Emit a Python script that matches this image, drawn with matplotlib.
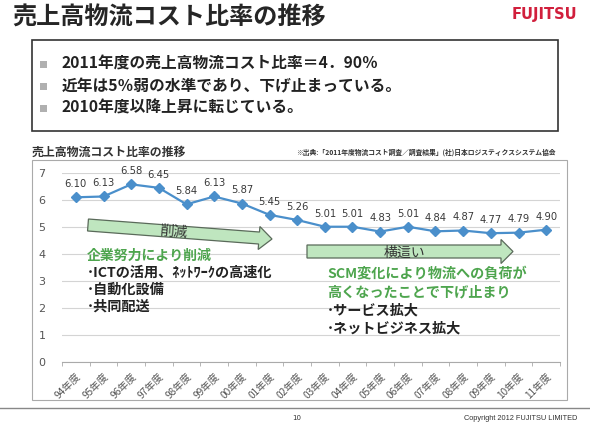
import matplotlib
matplotlib.use("Agg")
import matplotlib.pyplot as plt
from matplotlib import transforms
from matplotlib.patches import Polygon, Rectangle
from matplotlib.lines import Line2D
import math

plt.rcParams['font.family'] = ['Noto Sans CJK JP', 'DejaVu Sans']

# ---- data ----
categories = ["94年度", "95年度", "96年度", "97年度", "98年度", "99年度", "00年度", "01年度", "02年度",
              "03年度", "04年度", "05年度", "06年度", "07年度", "08年度", "09年度", "10年度", "11年度"]
values = [6.10, 6.13, 6.58, 6.45, 5.84, 6.13, 5.87, 5.45, 5.26,
          5.01, 5.01, 4.83, 5.01, 4.84, 4.87, 4.77, 4.79, 4.90]
y_ticks = [0, 1, 2, 3, 4, 5, 6, 7]

title = "売上高物流コスト比率の推移"
bullets = ["2011年度の売上高物流コスト比率＝4．90％",
           "近年は5％弱の水準であり、下げ止まっている。",
           "2010年度以降上昇に転じている。"]
chart_title = "売上高物流コスト比率の推移"
source = "※出典:「2011年度物流コスト調査／調査結果」(社)日本ロジスティクスシステム協会"
left_head = "企業努力により削減"
left_items = ["･ICTの活用、ﾈｯﾄﾜｰｸの高速化", "･自動化設備", "･共同配送"]
right_head = ["SCM変化により物流への負荷が", "高くなったことで下げ止まり"]
right_items = ["･サービス拡大", "･ネットビジネス拡大"]

W, H = 590, 424
fig = plt.figure(figsize=(W / 100, H / 100), dpi=100)
fig.patch.set_facecolor("white")

# pixel transform (origin top-left)
PX = transforms.Affine2D().scale(1 / W, -1 / H).translate(0, 1) + fig.transFigure

GREEN = "#4ea54e"
DARK = "#222222"

# title & logo
fig.text(12, 18, title, transform=PX, fontsize=17.4, fontweight="bold", color="#262626", va="center", ha="left")
fig.text(577, 15, "FUJITSU", transform=PX, fontsize=10.5, color="#d11f3c", va="center", ha="right",
         fontweight="bold", family=["Liberation Sans Narrow", "DejaVu Sans"])

# bullet box
fig.patches.append(Rectangle((32, 40), 526, 91, transform=PX, fill=False, edgecolor="#333333", lw=1.2))
for i, b in enumerate(bullets):
    y = 64 + i * 22
    fig.patches.append(Rectangle((40, y - 3.5), 7, 7, transform=PX, facecolor="#b0b0b0", edgecolor="none"))
    fig.text(62, y, b, transform=PX, fontsize=11.3, fontweight="bold", color=DARK, va="center", ha="left")

# chart frame
fig.patches.append(Rectangle((32, 160), 535, 240, transform=PX, fill=False, edgecolor="#aaaaaa", lw=0.8))
fig.text(32, 152, chart_title, transform=PX, fontsize=8.6, fontweight="bold", color="#333333", va="center")
fig.text(556, 152, source, transform=PX, fontsize=4.9, fontweight="bold", color="#333333", va="center", ha="right")

# axes
ax = fig.add_axes([62 / W, 1 - 362 / H, (560 - 62) / W, (362 - 173) / H])
x = list(range(len(categories)))
ax.plot(x, values, color="#4a8fcb", lw=1.6, marker="D", markersize=5.5, zorder=3)
for xi, v in zip(x, values):
    ax.annotate(f"{v:.2f}", (xi, v), xytext=(0, 9.5), textcoords="offset points",
                ha="center", va="center", fontsize=7.2, color="#3a3a3a", family=["DejaVu Sans"])
ax.set_xlim(-0.5, len(categories) - 0.5)
ax.set_ylim(0, 7)
ax.set_yticks(y_ticks)
ax.set_yticklabels([str(t) for t in y_ticks], fontsize=8, color="#555555", family=["DejaVu Sans"])
ax.set_xticks(x)
ax.set_xticklabels(categories, rotation=45, ha="right", rotation_mode="anchor", fontsize=7.3, color="#555555")
ax.set_xticks([i - 0.5 for i in range(len(categories) + 1)], minor=True)
ax.tick_params(axis="x", which="major", length=0, pad=7)
ax.tick_params(axis="x", which="minor", length=3, color="#aaaaaa")
ax.tick_params(axis="y", length=0, pad=12)
ax.grid(axis="y", color="#d4d4d4", lw=0.8)
ax.set_axisbelow(True)
for s in ["top", "right", "left"]:
    ax.spines[s].set_visible(False)
ax.spines["bottom"].set_color("#aaaaaa")
ax.patch.set_alpha(0)

# arrows (annotation shapes in pixel coords)
def arrow(x0, yc0, x1, yc1, body_h, head_h, head_len, fc, label, fs):
    dx, dy = x1 - x0, yc1 - yc0
    L = math.hypot(dx, dy)
    ux, uy = dx / L, dy / L
    nx, ny = -uy, ux
    def p(t, n):
        return (x0 + ux * t + nx * n, yc0 + uy * t + ny * n)
    pts = [p(0, -body_h / 2), p(L - head_len, -body_h / 2), p(L - head_len, -head_h / 2), p(L, 0),
           p(L - head_len, head_h / 2), p(L - head_len, body_h / 2), p(0, body_h / 2)]
    fig.patches.append(Polygon(pts, closed=True, transform=PX, facecolor=fc, edgecolor="#5a6a5a", lw=0.9, zorder=4))
    ang = -math.degrees(math.atan2(dy, dx))
    cx, cy = p((L - head_len) / 2, 0)
    fig.text(cx, cy + 1, label, transform=PX, fontsize=fs, color="#333333", ha="center", va="center",
             rotation=ang, rotation_mode="anchor", zorder=5)

arrow(88, 225, 272, 239, 12, 23, 13, "#bfe6bf", "削減", 10)
arrow(307, 251.5, 513, 251.5, 13, 24, 12, "#bfe6bf", "横這い", 10)

# annotations text
fig.text(87, 256, left_head, transform=PX, fontsize=10, fontweight="bold", color=GREEN, va="center")
for i, t in enumerate(left_items):
    fig.text(87, 273 + i * 17, t, transform=PX, fontsize=10.2, fontweight="bold", color=DARK, va="center")
for i, t in enumerate(right_head):
    fig.text(327, 274 + i * 18, t, transform=PX, fontsize=10.2, fontweight="bold", color=GREEN, va="center")
for i, t in enumerate(right_items):
    fig.text(327, 310 + i * 18, t, transform=PX, fontsize=10.2, fontweight="bold", color=DARK, va="center")

# footer
fig.lines.append(Line2D([0, 590], [408, 408], transform=PX, color="#888888", lw=1.0))
fig.text(297, 418, "10", transform=PX, fontsize=5, color="#333333", ha="center", va="center", family=["DejaVu Sans"])
fig.text(577, 418, "Copyright 2012 FUJITSU LIMITED", transform=PX, fontsize=5.3, color="#333333",
         ha="right", va="center", family=["Liberation Sans", "DejaVu Sans"])

fig.savefig("out.png", dpi=100, facecolor="white")
